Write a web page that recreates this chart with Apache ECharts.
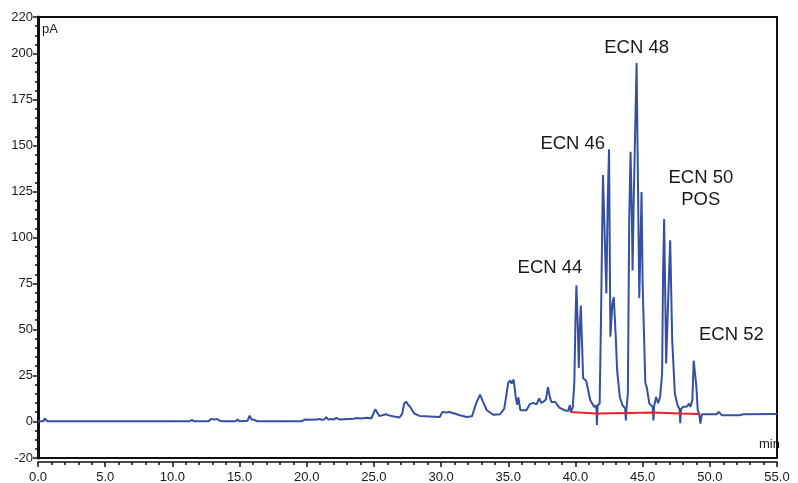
<!DOCTYPE html>
<html>
<head>
<meta charset="utf-8">
<script src="https://cdn.jsdelivr.net/npm/echarts@6/dist/echarts.min.js"></script>
<style>
html,body{margin:0;padding:0;background:#fff;}
#chart{width:798px;height:483px;}
</style>
</head>
<body>
<div id="chart"></div>
<script>
// Retention time (min)
var timeMin = [
  0, 0.4, 0.5, 0.6, 0.7, 11.3, 11.45, 11.6, 12.7, 12.9, 13.1, 13.3, 13.5, 13.7,
  14.7, 14.85, 15.0, 15.6, 15.75, 15.9, 16.1, 16.3, 19.6, 19.9, 20.2, 20.8, 20.95,
  21.1, 21.3, 21.45, 21.6, 21.8, 22.0, 22.2, 22.4, 23.5, 23.7, 24.0, 24.5, 24.8,
  25.1, 25.4, 25.9, 26.1, 26.4, 26.9, 27.1, 27.25, 27.4, 27.55, 27.7, 28.0, 28.4,
  29.9, 30.1, 30.4, 30.6, 31.0, 31.4, 31.9, 32.3, 32.6, 32.9, 33.1, 33.4, 33.9,
  34.4, 34.7, 35.0, 35.15, 35.25, 35.4, 35.55, 35.65, 35.75, 35.9, 36.35, 36.6,
  36.85, 37.1, 37.3, 37.45, 37.6, 37.8, 37.95, 38.1, 38.2, 38.5, 38.8, 39.2, 39.45,
  39.58, 39.65, 39.8, 39.92, 40.0, 40.07, 40.18, 40.25, 40.32, 40.4, 40.5, 40.57,
  40.8, 41.1, 41.4, 41.55, 41.6, 41.65, 41.8, 41.9, 42.0, 42.05, 42.2, 42.3, 42.4,
  42.5, 42.6, 42.75, 42.85, 43.0, 43.1, 43.3, 43.5, 43.7, 43.75, 43.8, 43.9, 44.0,
  44.1, 44.2, 44.25, 44.35, 44.45, 44.55, 44.62, 44.75, 44.85, 44.92, 45.0, 45.2,
  45.3, 45.5, 45.75, 45.8, 45.85, 46.0, 46.15, 46.3, 46.45, 46.52, 46.6, 46.68,
  46.75, 46.9, 47.05, 47.2, 47.4, 47.6, 47.75, 47.8, 47.85, 48.0, 48.3, 48.45,
  48.55, 48.7, 48.8, 48.9, 49.0, 49.1, 49.2, 49.3, 49.4, 50.5, 50.65, 50.9, 52.2,
  52.5, 55.0
];
// Detector signal (pA)
var signalPA = [
  0, 0, 1.5, 0.8, 0, 0, 0.8, 0, 0, 1.3, 0.9, 1.3, 0.4, 0,
  0, 1, 0, 0.3, 3, 1, 0.8, 0, 0, 1, 0.8, 0.9, 1.3,
  0.8, 1, 2.2, 1, 1.2, 0.9, 1.8, 1.0, 1.3, 1.8, 1.5, 1.9, 1.5,
  6.5, 2.8, 3.8, 3.2, 2.7, 2.0, 4, 9.5, 10.7, 9, 7.8, 4.2, 2.9,
  2.3, 5.1, 4.8, 5.0, 4.2, 3.3, 2.3, 2.7, 9.6, 14.5, 11, 6, 3.5,
  3.8, 6.9, 21, 22.3, 20.5, 22.7, 13.5, 9, 13, 6, 6, 9.3,
  10, 9.2, 12.5, 10, 10.5, 11.8, 18.5, 13, 10.5, 10.5, 7.4, 6, 5.5,
  8.7, 5.3, 7.4, 22, 55, 74, 50, 29, 50, 63, 40, 23.4,
  22, 11.4, 7.8, 8.5, -2, 8.7, 9.6, 55, 110, 134, 95, 69.5, 120,
  148, 46, 64, 67.6, 46, 27.8, 13.2, 8.7, 7, 0.5, 7, 15, 109,
  146.6, 110, 82, 125.7, 160, 195, 150, 67, 100, 124.8, 75, 20.7,
  18.7, 9.6, 7.8, 0.5, 8, 13.2, 9.8, 13.2, 26, 80, 110, 70,
  31.5, 66, 98.5, 44, 15, 8.7, 6.5, -1, 6.5, 7.8, 8, 9.6,
  7.8, 11.4, 33, 34, 18.7, 6, 4.2, -1.3, 3.8, 3.8, 5.1, 3.3, 3.3,
  3.8, 4
];
// Integration baseline (red)
var baseTime = [39.6, 41.55, 43.8, 45.8, 47.8, 49.2];
var baseValue = [5.1, 4.2, 4.5, 4.7, 4.2, 4.0];
// Peak annotations
var annoText = ['ECN 44', 'ECN 46', 'ECN 48', 'ECN 50\nPOS', 'ECN 52'];
var annoTime = [38.1, 39.8, 44.55, 49.33, 51.6];
var annoValue = [83.3, 150.7, 203.3, 126.3, 46.8];
// Axis labels
var yLabelValues = [-20, 0, 25, 50, 75, 100, 125, 150, 175, 200, 220];

var trace = timeMin.map(function (t, i) { return [t, signalPA[i]]; });
var baseline = baseTime.map(function (t, i) { return [t, baseValue[i]]; });

var FONT = 'Liberation Sans, Arial, sans-serif';
var chart = echarts.init(document.getElementById('chart'), null, { renderer: 'canvas' });
chart.setOption({
  animation: false,
  backgroundColor: '#ffffff',
  grid: {
    left: 38, right: 21, top: 17, bottom: 25,
    containLabel: false, outerBoundsMode: 'none',
    show: true, borderColor: '#111', borderWidth: 2, backgroundColor: 'transparent'
  },
  xAxis: {
    type: 'value', min: 0, max: 55, interval: 5, position: 'bottom', offset: 4,
    axisLine: { show: true, onZero: false, lineStyle: { color: '#111', width: 1.5 } },
    axisTick: { show: true, inside: false, length: 5, lineStyle: { color: '#111', width: 1.5 } },
    minorTick: { show: true, splitNumber: 5, length: 3, lineStyle: { color: '#111', width: 1.5 } },
    axisLabel: {
      show: true, margin: 9, color: '#1a1a1a', fontSize: 13, fontFamily: FONT,
      formatter: function (v) { return v.toFixed(1); }
    },
    splitLine: { show: false }, minorSplitLine: { show: false }
  },
  yAxis: [
    {
      type: 'value', min: -20, max: 220, interval: 5, position: 'left',
      axisLine: { show: true, onZero: false, lineStyle: { color: '#111', width: 3 } },
      axisTick: { show: true, inside: false, length: 3, lineStyle: { color: '#111', width: 1.5 } },
      axisLabel: { show: false },
      splitLine: { show: false }
    },
    {
      type: 'value', min: -20, max: 220, interval: 5, position: 'left', offset: 0,
      axisLine: { show: false },
      axisTick: { show: true, inside: false, length: 5, customValues: yLabelValues, lineStyle: { color: '#111', width: 1.5 } },
      axisLabel: { show: true, margin: 5, color: '#1a1a1a', fontSize: 13, fontFamily: FONT, customValues: yLabelValues },
      splitLine: { show: false }
    }
  ],
  series: [
    {
      type: 'line', data: trace, yAxisIndex: 0, showSymbol: false, symbol: 'none',
      lineStyle: { color: '#3550a3', width: 2 }, z: 3
    },
    {
      type: 'line', data: baseline, yAxisIndex: 0, showSymbol: false, symbol: 'none',
      lineStyle: { color: '#e8202a', width: 2 }, z: 4
    }
  ]
});

// Peak annotations positioned through the chart's own scales
var annoGraphics = annoText.map(function (s, i) {
  var p = chart.convertToPixel({ gridIndex: 0 }, [annoTime[i], annoValue[i]]);
  return {
    type: 'text', x: p[0], y: p[1], z: 10,
    style: {
      text: s, fill: '#1a1a1a', font: '18.5px ' + FONT,
      align: 'center', verticalAlign: 'middle', lineHeight: 22
    }
  };
});
annoGraphics.push(
  { type: 'text', left: 42, top: 23, style: { text: 'pA', fill: '#1a1a1a', font: '13px ' + FONT } },
  { type: 'text', left: 759, top: 438, style: { text: 'min', fill: '#1a1a1a', font: '13px ' + FONT } }
);
chart.setOption({ graphic: annoGraphics });
</script>
</body>
</html>
